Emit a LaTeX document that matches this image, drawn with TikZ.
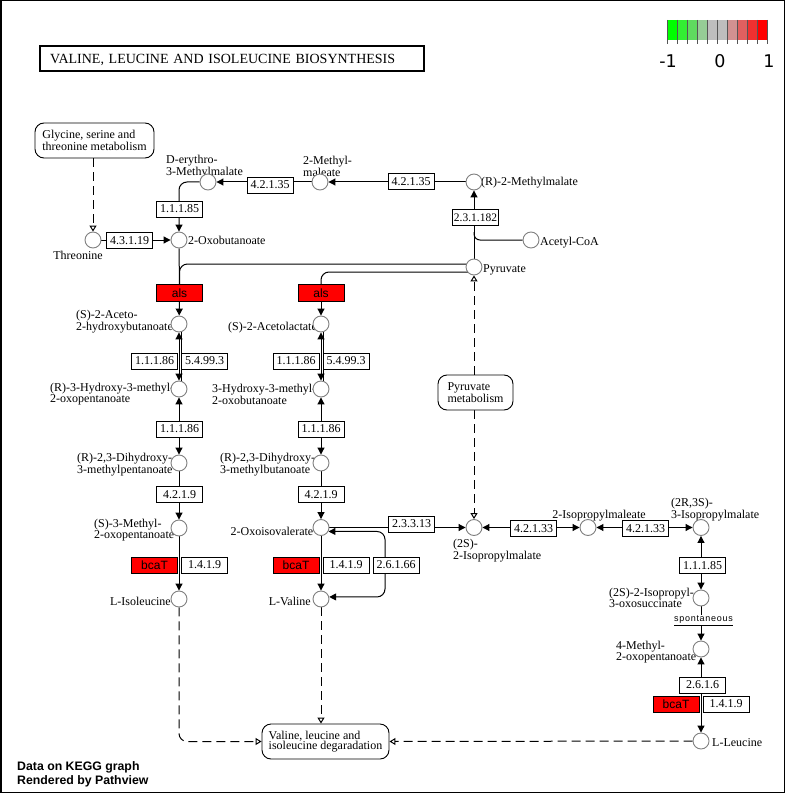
\documentclass[tikz,border=0pt]{standalone}
\usepackage{fontspec}
\setmainfont{Liberation Serif}
\newfontfamily\genefont{Liberation Sans}
\newfontfamily\spontfont[LetterSpace=8]{Liberation Sans}
\newfontfamily\legendfont{DejaVu Sans}
\usetikzlibrary{arrows.meta}
\pgfdeclarelayer{edges}
\pgfsetlayers{edges,main}
\definecolor{cpdgray}{RGB}{128,128,128}
\definecolor{geneRed}{RGB}{255,0,0}
\definecolor{tickgray}{RGB}{85,85,85}
\definecolor{lgA}{RGB}{0,255,0}
\definecolor{lgB}{RGB}{51,238,51}
\definecolor{lgC}{RGB}{95,219,95}
\definecolor{lgD}{RGB}{150,205,150}
\definecolor{lgE}{RGB}{190,190,190}
\definecolor{lgF}{RGB}{190,190,190}
\definecolor{lgG}{RGB}{210,145,145}
\definecolor{lgH}{RGB}{225,95,95}
\definecolor{lgI}{RGB}{240,48,48}
\definecolor{lgJ}{RGB}{255,0,0}
\begin{document}
\begin{tikzpicture}[x=1pt,y=-1pt,
  >={Triangle[length=7pt,width=7pt]},
  cpd/.style={circle,draw=cpdgray,fill=white,line width=0.9pt,minimum size=16pt,inner sep=0pt},
  enz/.style={draw,fill=white,line width=0.9pt,minimum width=46pt,minimum height=16pt,inner sep=0pt,font=\fontsize{12}{12}\selectfont},
  gene/.style={enz,fill=geneRed,font=\genefont\fontsize{12}{12}\selectfont},
  mapbox/.style={draw,fill=white,rounded corners=9pt,line width=0.9pt,align=left,inner sep=0pt,minimum height=35pt,font=\fontsize{12}{10.5}\selectfont},
  lbl/.style={inner sep=0pt,align=left,font=\fontsize{12}{10.5}\selectfont},
  lbl1/.style={lbl,text height=9pt,text depth=1pt},
  rxn/.style={line width=1pt},
  maplink/.style={line width=1pt,dash pattern=on 9pt off 5pt,-{Triangle[open,length=6pt,width=7pt]}}
]
\useasboundingbox (0,0) rectangle (786,794);
% outer frame
\draw[line width=1.5pt] (0.75,0.75) rectangle (784.25,792.25);

% title
\node[draw,line width=2pt,minimum width=384pt,minimum height=25pt,inner sep=0pt] (titlebox) at (232,58.5) {};
\node[anchor=west,inner sep=0pt,font=\fontsize{14}{14}\selectfont] (titletext) at (50,59.5)
  {\makebox[345pt][s]{VALINE, LEUCINE AND ISOLEUCINE BIOSYNTHESIS}};

% colour key
\foreach \c [count=\i from 0] in {lgA,lgB,lgC,lgD,lgE,lgF,lgG,lgH,lgI,lgJ}
  \fill[\c] (667+10*\i,20) rectangle (677+10*\i,40);
\foreach \i in {0,...,10}
  \draw[line width=0.8pt,tickgray] (667+10*\i,20) -- (667+10*\i,44);
\node[inner sep=0pt,font=\legendfont\fontsize{17.5}{17.5}\selectfont] (keymin) at (668,61) {-1};
\node[inner sep=0pt,font=\legendfont\fontsize{17.5}{17.5}\selectfont] (keymid) at (720,61) {0};
\node[inner sep=0pt,font=\legendfont\fontsize{17.5}{17.5}\selectfont] (keymax) at (769,61) {1};

% footer
\node[anchor=west,inner sep=0pt,font=\genefont\bfseries\fontsize{12.3}{12.3}\selectfont] (foot1) at (17,767) {Data on KEGG graph};
\node[anchor=west,inner sep=0pt,font=\genefont\bfseries\fontsize{12.3}{12.3}\selectfont] (foot2) at (17,781) {Rendered by Pathview};

% compound labels
\node[lbl1] (thrL) at (78,255) {Threonine};
\node[lbl1,anchor=west] (oxbL) at (188,240) {2-Oxobutanoate};
\node[lbl,anchor=west] (demL) at (166,167) {D-erythro-\\3-Methylmalate};
\node[lbl,anchor=west] (mmeL) at (303,166) {2-Methyl-\\maleate};
\node[lbl1,anchor=west] (rmmL) at (481,182) {(R)-2-Methylmalate};
\node[lbl1,anchor=west] (acoaL) at (540,241) {Acetyl-CoA};
\node[lbl1,anchor=west] (pyrL) at (483,268) {Pyruvate};
\node[lbl,anchor=west] (ahbL) at (76,322) {(S)-2-Aceto-\\2-hydroxybutanoate};
\node[lbl1,anchor=west] (alacL) at (228,326) {(S)-2-Acetolactate};
\node[lbl,anchor=west] (hmoL) at (50,394) {(R)-3-Hydroxy-3-methyl-\\2-oxopentanoate};
\node[lbl,anchor=west] (hmbL) at (212,394) {3-Hydroxy-3-methyl-\\2-oxobutanoate};
\node[lbl,anchor=west] (dhpL) at (77,464.5) {(R)-2,3-Dihydroxy-\\3-methylpentanoate};
\node[lbl,anchor=west] (dhbL) at (220,464.5) {(R)-2,3-Dihydroxy-\\3-methylbutanoate};
\node[lbl,anchor=west] (mopL) at (94,530) {(S)-3-Methyl-\\2-oxopentanoate};
\node[lbl1,anchor=east] (oivL) at (313.5,531) {2-Oxoisovalerate};
\node[lbl1,anchor=east] (ileL) at (171,601) {L-Isoleucine};
\node[lbl1,anchor=east] (valL) at (311,601) {L-Valine};
\node[lbl,anchor=west] (ipmL) at (453,551) {(2S)-\\2-Isopropylmalate};
\node[lbl1] (ipmeL) at (599,514) {2-Isopropylmaleate};
\node[lbl,anchor=west] (ipm3L) at (671,510) {(2R,3S)-\\3-Isopropylmalate};
\node[lbl,anchor=west] (iosL) at (609,598) {(2S)-2-Isopropyl-\\3-oxosuccinate};
\node[lbl,anchor=west] (mop4L) at (616,652) {4-Methyl-\\2-oxopentanoate};
\node[lbl1,anchor=west] (leuL) at (712,742) {L-Leucine};

% compounds
\node[cpd] (thr) at (93,240) {};
\node[cpd] (oxb) at (179,240) {};
\node[cpd] (dem) at (208,182) {};
\node[cpd] (mme) at (320,182) {};
\node[cpd] (rmm) at (474,182) {};
\node[cpd] (acoa) at (531,240) {};
\node[cpd] (pyr) at (474,267) {};
\node[cpd] (ahb) at (179,324) {};
\node[cpd] (alac) at (321,324) {};
\node[cpd] (hmo) at (179,389) {};
\node[cpd] (hmb) at (321,389) {};
\node[cpd] (dhp) at (179,463) {};
\node[cpd] (dhb) at (321,463) {};
\node[cpd] (mop) at (179,528) {};
\node[cpd] (oiv) at (321,527.5) {};
\node[cpd] (ile) at (179,599) {};
\node[cpd] (val) at (321,599) {};
\node[cpd] (ipm) at (474,527.5) {};
\node[cpd] (ipme) at (588,527.5) {};
\node[cpd] (ipm3) at (701,527.5) {};
\node[cpd] (ios) at (701,598) {};
\node[cpd] (mop4) at (701,649) {};
\node[cpd] (leu) at (701,741) {};

% enzymes
\node[enz] (e1) at (270,185) {4.2.1.35};
\node[enz] (e2) at (411,181.5) {4.2.1.35};
\node[enz] (e3) at (179.5,209) {1.1.1.85};
\node[enz] (e4) at (129.5,240.5) {4.3.1.19};
\node[enz,font=\fontsize{11.5}{12}\selectfont] (e5) at (475.5,217.5) {2.3.1.182};
\node[gene,minimum height=17pt] (als1) at (179.5,293) {als};
\node[gene,minimum height=17pt] (als2) at (321,293) {als};
\node[enz] (e6) at (154.5,361) {1.1.1.86};
\node[enz] (e7) at (204.5,361) {5.4.99.3};
\node[enz] (e8) at (296,361) {1.1.1.86};
\node[enz] (e9) at (346,361) {5.4.99.3};
\node[enz] (e10) at (179.5,429) {1.1.1.86};
\node[enz] (e11) at (321,429) {1.1.1.86};
\node[enz] (e12) at (179.5,494.5) {4.2.1.9};
\node[enz] (e13) at (321,494.5) {4.2.1.9};
\node[gene] (bcat1) at (154.5,565) {bcaT};
\node[enz] (e14) at (204.5,565) {1.4.1.9};
\node[gene] (bcat2) at (296,565) {bcaT};
\node[enz] (e15) at (346,565) {1.4.1.9};
\node[enz] (e16) at (396,565) {2.6.1.66};
\node[enz] (e17) at (411.5,524) {2.3.3.13};
\node[enz] (e18) at (533.5,528.5) {4.2.1.33};
\node[enz] (e19) at (645.5,528.5) {4.2.1.33};
\node[enz] (e20) at (702.5,565.5) {1.1.1.85};
\node[enz] (e21) at (702.5,685) {2.6.1.6};
\node[gene] (bcat3) at (676,704) {bcaT};
\node[enz] (e22) at (726,704) {1.4.1.9};
\node[inner sep=1pt,fill=white,font=\spontfont\fontsize{9}{9}\selectfont] (spont) at (703.5,620.5) {\underline{spontaneous}};

% pathway maps
\node[mapbox,minimum width=119pt] (gly) at (94.5,140.5) {Glycine, serine and\\threonine metabolism};
\node[mapbox,minimum width=75pt] (pyrmap) at (475.5,392.5) {Pyruvate\\metabolism};
\node[mapbox,minimum width=127pt] (deg) at (325.5,741.5) {Valine, leucine and\\isoleucine degaradation};

% junction points
\coordinate (acj) at (474,232);
\coordinate (py1) at (466.6,264);
\coordinate (py2) at (467.8,272);
\coordinate (lp) at (385,565);

\begin{pgfonlayer}{edges}
  % threonine and citramalate routes to 2-oxobutanoate
  \draw[rxn,->] (thr) -- (oxb);
  \draw[rxn,->] (rmm) -- (mme);
  \draw[rxn,->] (mme) -- (dem);
  \draw[rxn,->,rounded corners=8pt] (dem.west) -| (oxb.north);
  \draw[rxn,->] (pyr) -- (rmm);
  \draw[rxn,rounded corners=6pt] (acoa.west) -| (acj);
  % acetolactate synthase branches
  \draw[rxn,rounded corners=8pt] (py1) -| (als1.north);
  \draw[rxn,rounded corners=8pt] (py2) -| (als2.north);
  \draw[rxn] (oxb) -- (als1);
  \draw[rxn,->] (als1) -- (ahb);
  \draw[rxn,->] (als2) -- (alac);
  % isoleucine column
  \draw[rxn,<->] (ahb) -- (hmo);
  \draw[rxn] ([xshift=2pt]ahb.south) -- ([xshift=2pt]hmo.north);
  \draw[rxn,<->] (hmo) -- (dhp);
  \draw[rxn,->] (dhp) -- (mop);
  \draw[rxn,->] (mop) -- (ile);
  % valine column
  \draw[rxn,<->] (alac) -- (hmb);
  \draw[rxn] ([xshift=2pt]alac.south) -- ([xshift=2pt]hmb.north);
  \draw[rxn,<->] (hmb) -- (dhb);
  \draw[rxn,->] (dhb) -- (oiv);
  \draw[rxn,->] (oiv) -- (val);
  \draw[rxn,<->,rounded corners=8pt] (oiv.-28) -| (lp) |- (val.14);
  % leucine branch
  \draw[rxn,->] (oiv) -- (ipm);
  \draw[rxn,<->] (ipm) -- (ipme);
  \draw[rxn,<->] (ipme) -- (ipm3);
  \draw[rxn,<->] (ipm3) -- (ios);
  \draw[rxn,->] (ios) -- (mop4);
  \draw[rxn,<->] (mop4) -- (leu);
  % links to other maps
  \draw[maplink] (thr |- gly.south) -- (thr);
  \draw[maplink] (pyr |- pyrmap.north) -- (pyr);
  \draw[maplink] (ipm |- pyrmap.south) -- (ipm);
  \draw[maplink,rounded corners=8pt] (ile) |- (deg.west);
  \draw[maplink] (val) -- (val |- deg.north);
  \draw[maplink] (leu) -- (deg.east);
\end{pgfonlayer}
\end{tikzpicture}
\end{document}
